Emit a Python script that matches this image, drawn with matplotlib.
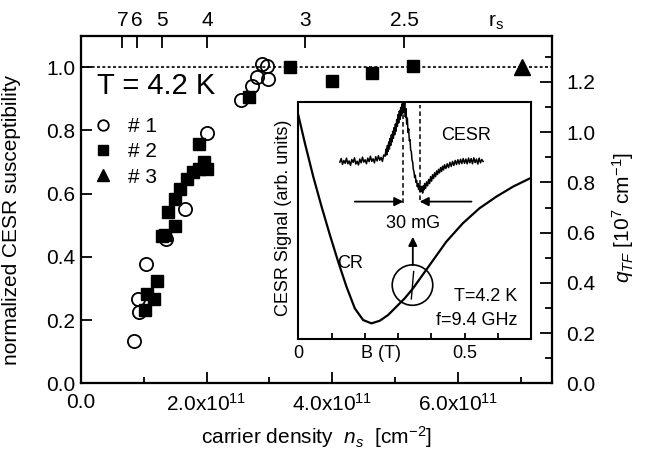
import matplotlib
matplotlib.use('Agg')
import matplotlib.pyplot as plt
from matplotlib.patches import Ellipse

plt.rcParams['font.family'] = ['Liberation Sans', 'DejaVu Sans']
plt.rcParams['mathtext.fontset'] = 'custom'
plt.rcParams['mathtext.rm'] = 'Liberation Sans'
plt.rcParams['mathtext.it'] = 'Liberation Sans:italic'
plt.rcParams['mathtext.bf'] = 'Liberation Sans:bold'

# ---------------- data (carrier density in units of 1e11 cm^-2) ----------------
s1_n = [0.85, 0.93, 0.91, 1.04, 1.35, 1.66, 2.00, 2.55, 2.72, 2.80, 2.88, 2.96, 2.97]
s1_chi = [0.134, 0.226, 0.268, 0.376, 0.455, 0.550, 0.792, 0.895, 0.940, 0.970, 1.010, 1.002, 0.962]

s2_n = [1.02, 1.05, 1.16, 1.215, 1.285, 1.33, 1.497, 1.39, 1.497, 1.576, 1.68, 1.79, 1.88,
        1.96, 2.00, 1.88, 2.68, 3.33, 3.99, 4.64, 5.29]
s2_chi = [0.231, 0.282, 0.268, 0.324, 0.466, 0.470, 0.499, 0.541, 0.584, 0.615, 0.647, 0.668,
          0.678, 0.699, 0.678, 0.757, 0.904, 1.001, 0.957, 0.981, 1.002]

s3_n = [7.02]
s3_chi = [1.00]

legend_labels = ['# 1', '# 2', '# 3']

x_ticks = [0, 2, 4, 6]
x_ticklabels = ['0.0', r'2.0x10$^{11}$', r'4.0x10$^{11}$', r'6.0x10$^{11}$']
y_ticks = [0.0, 0.2, 0.4, 0.6, 0.8, 1.0]
q_ticks = [0.0, 0.2, 0.4, 0.6, 0.8, 1.0, 1.2]
rs_values = [7, 6, 5, 4, 3, 2.5]
rs_labels = ['7', '6', '5', '4', '3', '2.5']
rs_const = 5.67  # r_s = rs_const / sqrt(n_s [1e11])

# inset: CR curve (B in T, signal arb.)
cr_B = [0.0, 0.02, 0.045, 0.07, 0.095, 0.12, 0.145, 0.17, 0.195, 0.22, 0.245, 0.27, 0.295,
        0.32, 0.345, 0.37, 0.395, 0.445, 0.495, 0.545, 0.596, 0.646, 0.70]
cr_sig = [0.943, 0.824, 0.684, 0.558, 0.439, 0.326, 0.221, 0.130, 0.081, 0.067, 0.078, 0.102,
          0.137, 0.172, 0.214, 0.263, 0.312, 0.410, 0.488, 0.551, 0.600, 0.642, 0.679]

# inset: CESR trace (B in T, signal arb.)
esr_B = [0.125, 0.129, 0.133, 0.137, 0.141, 0.145, 0.149, 0.153, 0.157, 0.161, 0.165, 0.169,
         0.173, 0.177, 0.181, 0.185, 0.189, 0.193, 0.197, 0.201, 0.205, 0.209, 0.213, 0.217,
         0.221, 0.225, 0.229, 0.233, 0.237, 0.241, 0.245, 0.249, 0.253, 0.257, 0.261,
         0.264, 0.266, 0.268, 0.270, 0.272, 0.274, 0.276, 0.278, 0.280, 0.282, 0.284, 0.286,
         0.288, 0.290, 0.292, 0.294, 0.296, 0.298, 0.300, 0.302, 0.304, 0.306, 0.308, 0.310,
         0.312, 0.314, 0.316, 0.318, 0.320, 0.322, 0.324, 0.326, 0.328, 0.330, 0.332, 0.334,
         0.336, 0.338, 0.340, 0.342, 0.344, 0.346, 0.348, 0.350, 0.352, 0.354, 0.356, 0.358,
         0.360, 0.362, 0.364, 0.366, 0.368, 0.370, 0.372, 0.374, 0.376, 0.378, 0.380, 0.383,
         0.386, 0.389, 0.392, 0.395, 0.398, 0.401, 0.404, 0.407, 0.410, 0.413, 0.416, 0.419,
         0.422, 0.425, 0.428, 0.431, 0.434, 0.437, 0.440, 0.444, 0.448, 0.452, 0.456, 0.460,
         0.464, 0.468, 0.472, 0.476, 0.480, 0.484, 0.488, 0.492, 0.496, 0.500, 0.504, 0.508,
         0.512, 0.516, 0.520, 0.524, 0.528, 0.532, 0.536, 0.540, 0.544, 0.548, 0.552, 0.556]
esr_sig = [0.745, 0.760, 0.735, 0.752, 0.740, 0.762, 0.738, 0.750, 0.731, 0.756, 0.744, 0.763,
           0.737, 0.749, 0.733, 0.758, 0.742, 0.766, 0.745, 0.755, 0.738, 0.762, 0.747, 0.770,
           0.748, 0.759, 0.742, 0.768, 0.750, 0.772, 0.753, 0.765, 0.748, 0.775, 0.770,
           0.800, 0.775, 0.815, 0.790, 0.830, 0.800, 0.845, 0.815, 0.860, 0.830, 0.875, 0.845,
           0.890, 0.860, 0.905, 0.875, 0.925, 0.895, 0.945, 0.910, 0.960, 0.925, 0.975, 0.940,
           0.990, 0.950, 1.000, 0.955, 0.995, 0.935, 0.970, 0.905, 0.930, 0.870, 0.885, 0.835,
           0.840, 0.795, 0.790, 0.755, 0.745, 0.715, 0.705, 0.680, 0.690, 0.660, 0.668, 0.642,
           0.655, 0.630, 0.648, 0.620, 0.645, 0.622, 0.640, 0.615, 0.645, 0.628, 0.655, 0.635,
           0.662, 0.645, 0.672, 0.655, 0.684, 0.665, 0.692, 0.676, 0.700, 0.684, 0.708, 0.693,
           0.715, 0.700, 0.722, 0.706, 0.728, 0.712, 0.734, 0.718, 0.738, 0.722, 0.744, 0.727,
           0.748, 0.731, 0.752, 0.735, 0.755, 0.737, 0.757, 0.739, 0.760, 0.740, 0.758, 0.738,
           0.762, 0.742, 0.760, 0.738, 0.763, 0.743, 0.758, 0.737, 0.762, 0.742, 0.756, 0.748]

# ---------------- figure ----------------
W, H = 652, 453
fig = plt.figure(figsize=(W / 100, H / 100), dpi=100)

L, R, T, B = 81, 552, 35.5, 383.3
ax = fig.add_axes([L / W, 1 - B / H, (R - L) / W, (B - T) / H])
ax.set_xlim(0, 7.5)
ax.set_ylim(0, 1.1)

for s in ax.spines.values():
    s.set_linewidth(1.5)

ax.axhline(1.0, color='k', lw=1.2, dashes=(1.8, 1.4), zorder=1)

ax.plot(s1_n, s1_chi, 'o', ms=9.5, mfc='none', mec='k', mew=1.3, zorder=2, label=legend_labels[0])
ax.plot(s2_n, s2_chi, 's', ms=9, mfc='k', mec='k', zorder=3, label=legend_labels[1])
ax.plot(s3_n, s3_chi, '^', ms=11, mfc='k', mec='k', zorder=3, label=legend_labels[2])

ax.set_xticks(x_ticks)
ax.set_xticklabels(x_ticklabels)
ax.set_xticks([1, 3, 5, 7], minor=True)
ax.set_yticks(y_ticks)
ax.set_yticklabels(['%.1f' % v for v in y_ticks])
ax.tick_params(axis='both', which='major', direction='in', length=8, width=1.3, labelsize=15)
ax.tick_params(axis='x', which='minor', direction='in', length=4.5, width=1.3)
ax.tick_params(axis='x', which='major', pad=7)
ax.tick_params(axis='y', which='major', pad=4)

leg = ax.legend(loc='upper left', bbox_to_anchor=(0.028, 0.765), frameon=False, fontsize=15,
                borderpad=0, borderaxespad=0, handlelength=0.8, handletextpad=0.8,
                labelspacing=0.3, markerscale=0.8)

ax.text(0.033, 0.855, 'T = 4.2 K', transform=ax.transAxes, fontsize=21, va='center', ha='left')

# right axis q_TF
ax2 = ax.twinx()
ax2.set_ylim(0, 1.385)
ax2.set_yticks(q_ticks)
ax2.set_yticklabels(['%.1f' % v for v in q_ticks])
ax2.set_yticks([0.1, 0.3, 0.5, 0.7, 0.9, 1.1, 1.3], minor=True)
ax2.tick_params(axis='y', which='major', direction='in', length=8.5, width=1.3, labelsize=15, pad=10)
ax2.tick_params(axis='y', which='minor', direction='in', length=5, width=1.3)
for s in ax2.spines.values():
    s.set_linewidth(1.5)

# top axis r_s
ax3 = ax.twiny()
ax3.set_xlim(0, 7.5)
ax3.set_xticks([(rs_const / r) ** 2 for r in rs_values])
ax3.set_xticklabels(rs_labels)
ax3.tick_params(axis='x', which='major', direction='in', length=8.5, width=1.3, labelsize=15, pad=4)
for s in ax3.spines.values():
    s.set_linewidth(1.5)

fig.text(496 / W, 1 - 22 / H, r'r$_\mathrm{s}$', fontsize=15, ha='center', va='center')

fig.text(12 / W, 1 - 220 / H, 'normalized CESR susceptibility', rotation=90, fontsize=15,
         ha='center', va='center')
fig.text(317 / W, 1 - 437 / H, r'carrier density  $n_s$  [cm$^{-2}$]', fontsize=15,
         ha='center', va='center')
fig.text(623 / W, 1 - 218 / H, r'$q_{TF}$ [10$^7$ cm$^{-1}$]', rotation=90, fontsize=15,
         ha='center', va='center')

# ---------------- inset ----------------
IL, IR, IT, IB = 298.3, 531.0, 101.5, 339.3
axin = fig.add_axes([IL / W, 1 - IB / H, (IR - IL) / W, (IB - IT) / H], zorder=5)
axin.set_facecolor('white')
axin.set_xlim(0, 0.7)
axin.set_ylim(0, 1)
for s in axin.spines.values():
    s.set_linewidth(1.5)
axin.set_yticks([])
axin.set_xticks([0, 0.5])
axin.set_xticklabels(['0', '0.5'])
axin.set_xticks([0.1, 0.2, 0.3, 0.4, 0.6, 0.7], minor=True)
axin.tick_params(axis='x', which='both', direction='in', length=4.5, width=1.3, labelsize=13, pad=4)
axin.text(0.25, -0.058, 'B (T)', transform=axin.get_xaxis_transform(), fontsize=13,
          ha='center', va='center')

axin.plot(cr_B, cr_sig, color='k', lw=1.6)
axin.plot(esr_B, esr_sig, color='k', lw=1.1)

axin.plot([0.316, 0.316], [0.572, 0.978], color='k', lw=1.1, dashes=(3, 2))
axin.plot([0.365, 0.365], [0.585, 0.987], color='k', lw=1.1, dashes=(3, 2))

arrow_kw = dict(arrowstyle='-|>', color='k', lw=1.3, mutation_scale=13, shrinkA=0, shrinkB=0)
axin.annotate('', xy=(0.316, 0.579), xytext=(0.170, 0.579), arrowprops=arrow_kw)
axin.annotate('', xy=(0.365, 0.579), xytext=(0.521, 0.579), arrowprops=arrow_kw)
axin.annotate('', xy=(0.3445, 0.431), xytext=(0.3445, 0.312), arrowprops=arrow_kw)

axin.add_patch(Ellipse((0.3435, 0.228), 0.122, 0.170, fill=False, lw=1.2, color='k'))
axin.plot([0.340, 0.347], [0.170, 0.285], color='k', lw=1.0)

axin.text(0.345, 0.488, '30 mG', fontsize=13, ha='center', va='center')
axin.text(0.506, 0.859, 'CESR', fontsize=13, ha='center', va='center')
axin.text(0.155, 0.32, 'CR', fontsize=13, ha='center', va='center')
axin.text(0.66, 0.181, 'T=4.2 K', fontsize=13, ha='right', va='center')
axin.text(0.66, 0.081, 'f=9.4 GHz', fontsize=13, ha='right', va='center')

fig.text(283 / W, 1 - 218 / H, 'CESR Signal (arb. units)', rotation=90, fontsize=13,
         ha='center', va='center', zorder=6)

fig.savefig('out.png', dpi=100)
